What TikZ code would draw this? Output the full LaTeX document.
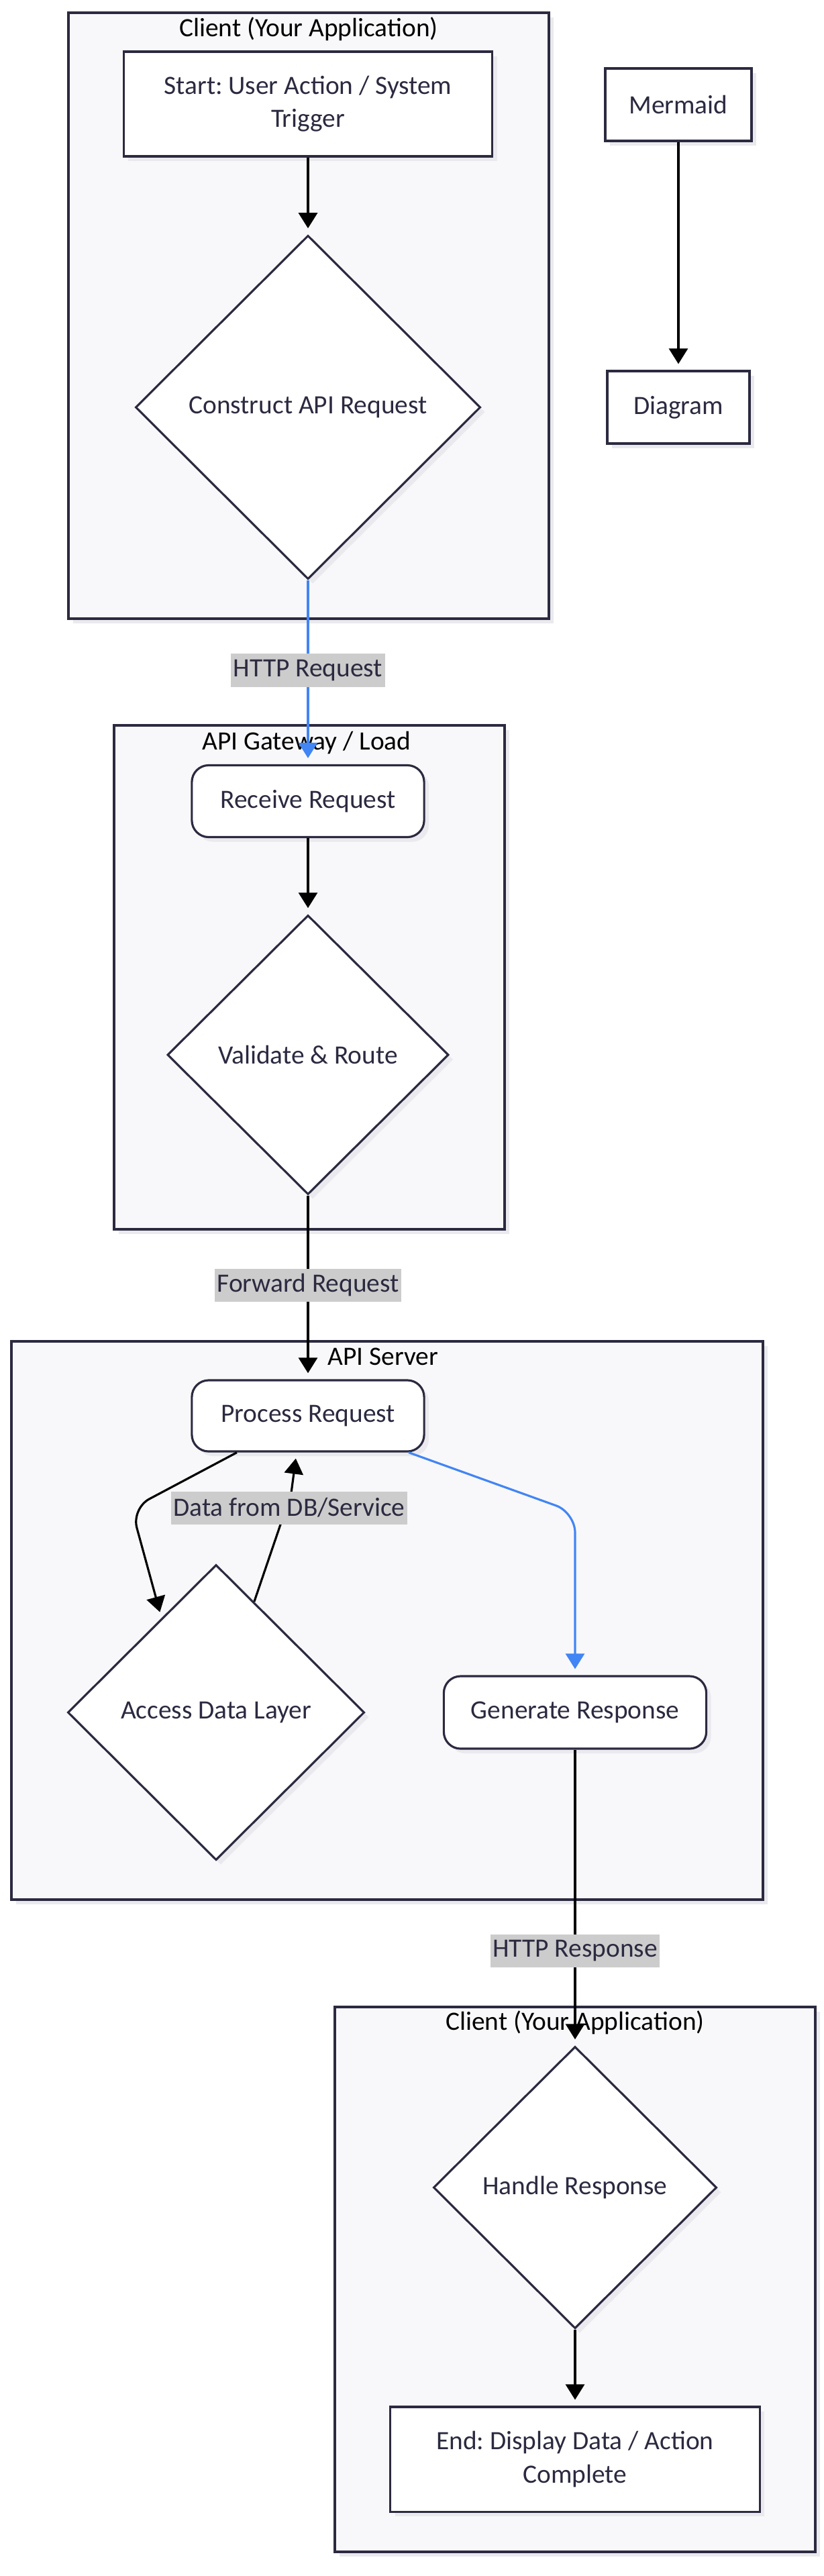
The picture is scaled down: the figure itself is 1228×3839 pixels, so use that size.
\documentclass[tikz,border=0pt]{standalone}
\usepackage{fontspec}
\setmainfont{Carlito}
\usepackage{tikz}
\usetikzlibrary{positioning, arrows.meta, shapes.geometric, shadows}
\definecolor{nodeline}{HTML}{2B2A40}
\definecolor{nodetext}{HTML}{2B2A40}
\definecolor{clusterfill}{HTML}{F8F8FA}
\definecolor{labelbg}{HTML}{CCCCCC}
\definecolor{linkblue}{HTML}{4285F4}
\definecolor{shade}{HTML}{EAEAEE}
\frenchspacing

\begin{document}
\begin{tikzpicture}[x=0.01cm, y=-0.01cm, font=\fontsize{11.2}{14}\selectfont,
  shadowed/.style={drop shadow={shadow xshift=0.07cm, shadow yshift=-0.07cm, fill=shade, opacity=1}},
  cluster/.style={draw=nodeline, fill=clusterfill, line width=0.9pt, shadowed},
  title/.style={text=black, inner sep=0pt},
  box/.style={draw=nodeline, fill=white, line width=0.9pt, text=nodetext, align=center, inner sep=0pt, shadowed},
  roundbox/.style={box, rounded corners=0.25cm},
  decision/.style={diamond, aspect=1, draw=nodeline, fill=white, line width=0.9pt, text=nodetext, inner sep=0pt, shadowed},
  link/.style={line width=0.9pt, -{Triangle[length=0.23cm, width=0.28cm]}, shorten >=0.09cm},
  edgelabel/.style={fill=labelbg, text=nodetext, inner xsep=1pt, inner ysep=0pt, minimum height=0.49cm}]
\useasboundingbox (0,0) rectangle (1228,3839);

% Clusters
\draw[cluster] (102,19) rectangle (818,922);
\draw[cluster] (170,1081) rectangle (752,1832);
\draw[cluster] (17,1999) rectangle (1137,2831);
\draw[cluster] (499,2991) rectangle (1215,3803);
\node[title] (tclient) at (460,43) {Client (Your Application)};
\node[title] (tgateway) at (457,1107) {API Gateway / Load};
\node[title] (tserver) at (571,2022) {API Server};
\node[title] (tclientb) at (857,3014) {Client (Your Application)};

% Client (top)
\node[box, minimum width=5.49cm, minimum height=1.56cm] (start) at (459,155) {Start: User Action / System\\Trigger};
\node[decision, minimum width=5.14cm, minimum height=5.12cm] (construct) at (459,607) {Construct API Request};

% Legend pair on the right
\node[box, minimum width=2.18cm, minimum height=1.08cm] (mermaid) at (1011,156) {Mermaid};
\node[box, minimum width=2.12cm, minimum height=1.08cm] (diagram) at (1011,607) {Diagram};

% Gateway
\node[roundbox, minimum width=3.46cm, minimum height=1.07cm] (receive) at (459,1194) {Receive Request};
\node[decision, minimum width=4.19cm, minimum height=4.16cm] (validate) at (459,1572) {Validate \& Route};

% Server
\node[roundbox, minimum width=3.46cm, minimum height=1.06cm] (process) at (459,2110) {Process Request};
\node[decision, minimum width=4.42cm, minimum height=4.40cm] (access) at (322,2552) {Access Data Layer};
\node[roundbox, minimum width=3.91cm, minimum height=1.08cm] (generate) at (857,2552) {Generate Response};

% Client (bottom)
\node[decision, minimum width=4.22cm, minimum height=4.20cm] (handle) at (857,3260) {Handle Response};
\node[box, minimum width=5.50cm, minimum height=1.56cm] (finish) at (857,3665) {End: Display Data / Action\\Complete};

% Connectors
\draw[link] (start) -- (construct);
\draw[link] (mermaid) -- (diagram);
\draw[link, linkblue] (construct) -- (receive);
\draw[link] (receive) -- (validate);
\draw[link] (validate) -- (process);
\draw[link, rounded corners=0.3cm] ([xshift=-1.06cm]process.south) -- (196,2248) -- (access.120);
\draw[link] (access.71) -- (434,2225) -- ([xshift=-0.17cm]process.south);
\draw[link, linkblue, rounded corners=0.3cm] ([xshift=1.5cm]process.south) -- (857,2254) -- (generate.north);
\draw[link] (generate) -- (handle);
\draw[link] (handle) -- (finish);

% Edge labels
\node[edgelabel] (lblhttp) at (459,999) {HTTP Request};
\node[edgelabel] (lblforward) at (459,1915) {Forward Request};
\node[edgelabel] (lbldata) at (431,2247) {Data from DB/Service};
\node[edgelabel] (lblresponse) at (857,2907) {HTTP Response};
\end{tikzpicture}
\end{document}
